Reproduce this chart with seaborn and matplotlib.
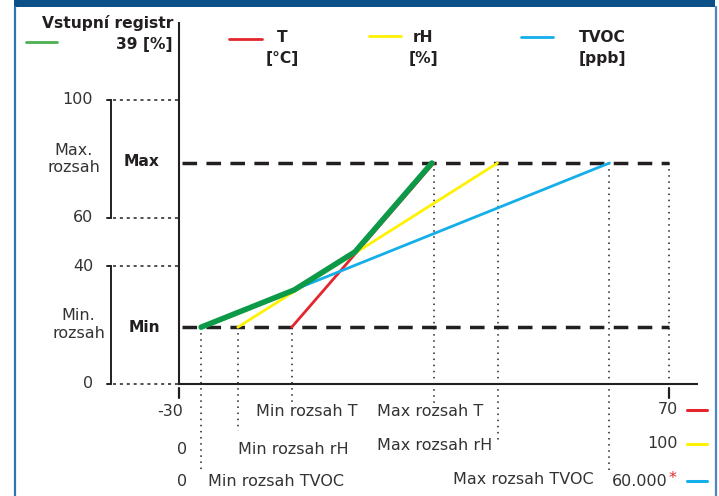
import numpy as np
import pandas as pd
import matplotlib
matplotlib.use("Agg")
import matplotlib.pyplot as plt
import seaborn as sns
from matplotlib.lines import Line2D
from matplotlib.patches import Rectangle

# ---------------- data ----------------
sensors = ["T", "rH", "TVOC"]
sensor_units = ["[°C]", "[%]", "[ppb]"]
scale_low = [-30, 0, 0]
scale_high = [70, 100, 60000]
scale_low_labels = ["-30", "0", "0"]
scale_high_labels = ["70", "100", "60.000"]
range_min = [-7, 12, 2700]
range_max = [22, 65, 52700]
min_labels = ["Min rozsah T", "Min rozsah rH", "Min rozsah TVOC"]
max_labels = ["Max rozsah T", "Max rozsah rH", "Max rozsah TVOC"]
sensor_colors = ["#e4262c", "#fff200", "#14aee8"]

register_tick_labels = ["0", "40", "60", "100"]
register_tick_pos = [0, 41.5, 58.6, 100]
level_min = 20.0
level_max = 77.8
output_x = [4.5, 23.5, 35.9, 51.6]   # percent of sensor scale
output_y = [20.0, 33.1, 46.5, 77.8]
output_title = "Vstupní registr"
output_value = "39 [%]"

# ---------------- layout ----------------
W, H = 719, 496
X0, PXX = 179.0, 4.9      # px of x=0, px per unit
Y0, PXY = 384.0, 2.84     # px of y=0, px per unit
FS = 11.5
FSB = 11.2

sns.set_theme(style="white")
plt.rcParams["font.family"] = ["DejaVu Sans"]

fig = plt.figure(figsize=(W / 100, H / 100), dpi=100)
fig.patch.set_facecolor("white")
ax = fig.add_axes([X0 / W, 1 - Y0 / H, (697 - X0) / W, (Y0 - 23) / H])
ax.set_xlim(0, (697 - X0) / PXX)
ax.set_ylim(0, (Y0 - 23) / PXY)
ax.set_facecolor("none")
for s in ["top", "right"]:
    ax.spines[s].set_visible(False)
for s in ["left", "bottom"]:
    ax.spines[s].set_color("#231f20")
    ax.spines[s].set_linewidth(1.5)
ax.set_xticks([])
ax.set_yticks([])


def dx(px):
    return (px - X0) / PXX


def dy(py):
    return (Y0 - py) / PXY


def ftext(px, py, s, **kw):
    kw.setdefault("va", "center")
    kw.setdefault("color", "#333333")
    return fig.text(px / W, 1 - py / H, s, **kw)


def fline(xs, ys, **kw):
    fig.add_artist(Line2D([x / W for x in xs], [1 - y / H for y in ys],
                          transform=fig.transFigure, **kw))


INK = "#231f20"
DOT = (0, (1, 3))

# frame
fig.add_artist(Rectangle((14 / W, 1 - 7 / H), (715 - 14) / W, 7 / H,
                         transform=fig.transFigure, color="#0b5088", lw=0))
fline([14.8, 14.8], [7, 496], color="#2f76bb", lw=1.6)
fline([715.5, 715.5], [7, 496], color="#4a86bf", lw=1.6)

# positions on common percent axis
pmin = [(v - lo) / (hi - lo) * 100 for v, lo, hi in zip(range_min, scale_low, scale_high)]
pmax = [(v - lo) / (hi - lo) * 100 for v, lo, hi in zip(range_max, scale_low, scale_high)]

# dashed Min / Max levels
for lvl in [level_max, level_min]:
    ax.plot([0.6, 100], [lvl, lvl], color=INK, lw=2.5, dashes=(4.2, 2.7),
            solid_capstyle="butt", dash_capstyle="butt")

# dotted verticals
min_end_px = [405, 431, 472]
max_end_px = [405, 440, 470]
for i in range(3):
    ax.plot([pmin[i], pmin[i]], [level_min, dy(min_end_px[i])], color=INK,
            lw=1.1, ls=DOT, clip_on=False)
    ax.plot([pmax[i], pmax[i]], [level_max, dy(max_end_px[i])], color=INK,
            lw=1.1, ls=DOT, clip_on=False)
ax.plot([100, 100], [level_max, 0], color=INK, lw=1.1, ls=DOT)

# x ticks below axis
for xv in [0, 100]:
    ax.plot([xv, xv], [dy(388), dy(398)], color=INK, lw=1.6, clip_on=False)

# y tick guides, labels and brackets
for lab, pos in zip(register_tick_labels, register_tick_pos):
    ax.plot([dx(113), 0], [pos, pos], color=INK, lw=1.1, ls=(0, (2, 2.5)),
            clip_on=False)
    ax.text(dx(93), pos, lab, ha="right", va="center", fontsize=FS,
            color="#333333", clip_on=False)
for lo, hi in [(0, 41.5), (58.6, 100)]:
    ax.plot([dx(107), dx(111), dx(111), dx(107)], [hi, hi, lo, lo],
            color=INK, lw=1.4, clip_on=False, solid_joinstyle="miter")

ftext(74, 150, "Max.", ha="center", fontsize=FS)
ftext(74, 168, "rozsah", ha="center", fontsize=FS)
ftext(142, 162, "Max", ha="center", fontsize=FSB, fontweight="bold", color=INK)
ftext(78, 315, "Min.", ha="center", fontsize=FS)
ftext(79, 333, "rozsah", ha="center", fontsize=FS)
ftext(144, 327, "Min", ha="center", fontsize=FSB, fontweight="bold", color=INK)

# sensor lines
df = pd.DataFrame({
    "x": [p for pair in zip(pmin, pmax) for p in pair],
    "y": [level_min, level_max] * 3,
    "sensor": [s for s in sensors for _ in range(2)],
})
sns.lineplot(data=df, x="x", y="y", hue="sensor", palette=sensor_colors,
             hue_order=sensors, lw=2.0, legend=False, sort=False,
             estimator=None, ax=ax)
sns.lineplot(x=output_x, y=output_y, color="#0c9a48", lw=4.0, sort=False,
             estimator=None, ax=ax, solid_capstyle="round")
ax.set_xlabel("")
ax.set_ylabel("")

# bottom labels
row_y = [411, 449, 482]
ftext(170, row_y[0], scale_low_labels[0], ha="center", fontsize=FS)
ftext(182, row_y[1], scale_low_labels[1], ha="center", fontsize=FS)
ftext(182, row_y[2], scale_low_labels[2], ha="center", fontsize=FS)
min_label_x = [256, 238, 208]
min_label_y = [411, 450, 481]
max_label_x = [377, 377, 453]
max_label_y = [411, 445, 479]
for i in range(3):
    ftext(min_label_x[i], min_label_y[i], min_labels[i], ha="left", fontsize=FS)
    ftext(max_label_x[i], max_label_y[i], max_labels[i], ha="left", fontsize=FS)
right_y = [410, 444, 481]
right_x = [678, 678, 668]
for i in range(3):
    ftext(right_x[i], right_y[i], scale_high_labels[i], ha="right", fontsize=FS)
    fline([687, 707], [right_y[i], right_y[i]], color=sensor_colors[i], lw=2.2)
ftext(669, 478, "*", ha="left", fontsize=FS, color="#e4262c")

# header legend
fline([26, 57], [42, 42], color="#4cb050", lw=2.0)
ftext(173, 23, output_title, ha="right", fontsize=FSB, fontweight="bold", color=INK)
ftext(173, 44, output_value, ha="right", fontsize=FSB, fontweight="bold", color=INK)
leg_line_x = [(229, 262), (369, 401), (521, 553)]
leg_line_y = [39, 36, 37]
leg_text_x = [282, 423, 602]
for i in range(3):
    fline(list(leg_line_x[i]), [leg_line_y[i]] * 2, color=sensor_colors[i], lw=2.0)
    ftext(leg_text_x[i], 38, sensors[i], ha="center", fontsize=FSB,
          fontweight="bold", color=INK)
    ftext(leg_text_x[i], 58, sensor_units[i], ha="center", fontsize=FSB,
          fontweight="bold", color=INK)

fig.savefig("out.png", dpi=100, facecolor="white")
